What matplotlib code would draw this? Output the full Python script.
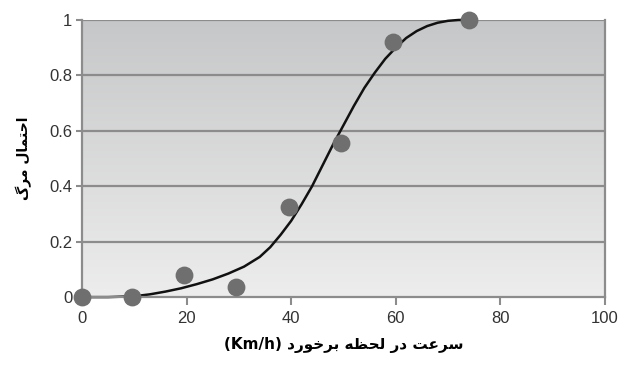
import matplotlib
matplotlib.use("Agg")
import matplotlib.pyplot as plt
from matplotlib.colors import LinearSegmentedColormap
import numpy as np

# measured points
speed = [0, 9.5, 19.5, 29.5, 39.5, 49.5, 59.5, 74]
prob = [0.0, 0.0, 0.08, 0.035, 0.325, 0.555, 0.92, 1.0]

# fitted curve
curve_x = [0, 5, 10, 13, 16, 19, 22, 25, 28, 31, 34, 36, 38, 40, 42, 44, 46, 48, 50,
           52, 54, 56, 58, 60, 62, 64, 66, 68, 70, 72, 74]
curve_y = [0.0, 0.0, 0.003, 0.01, 0.02, 0.032, 0.047, 0.064, 0.085, 0.11, 0.145, 0.18,
           0.225, 0.275, 0.335, 0.40, 0.475, 0.55, 0.62, 0.69, 0.755, 0.81, 0.86, 0.90,
           0.935, 0.96, 0.978, 0.99, 0.997, 1.0, 1.0]

xticks = [0, 20, 40, 60, 80, 100]
yticks = [0, 0.2, 0.4, 0.6, 0.8, 1]
ytick_labels = ["0", "0.2", "0.4", "0.6", "0.8", "1"]

xlabel_fa = "سرعت در لحظه برخورد"
ylabel_fa = "احتمال مرگ"

# simple persian shaping (presentation forms) since matplotlib has no shaper
forms = {
    "ا": ("\uFE8D", "\uFE8E", None, None),
    "ب": ("\uFE8F", "\uFE90", "\uFE91", "\uFE92"),
    "ت": ("\uFE95", "\uFE96", "\uFE97", "\uFE98"),
    "ح": ("\uFEA1", "\uFEA2", "\uFEA3", "\uFEA4"),
    "خ": ("\uFEA5", "\uFEA6", "\uFEA7", "\uFEA8"),
    "د": ("\uFEA9", "\uFEAA", None, None),
    "ر": ("\uFEAD", "\uFEAE", None, None),
    "س": ("\uFEB1", "\uFEB2", "\uFEB3", "\uFEB4"),
    "ظ": ("\uFEC5", "\uFEC6", "\uFEC7", "\uFEC8"),
    "ع": ("\uFEC9", "\uFECA", "\uFECB", "\uFECC"),
    "ل": ("\uFEDD", "\uFEDE", "\uFEDF", "\uFEE0"),
    "م": ("\uFEE1", "\uFEE2", "\uFEE3", "\uFEE4"),
    "ه": ("\uFEE9", "\uFEEA", "\uFEEB", "\uFEEC"),
    "و": ("\uFEED", "\uFEEE", None, None),
    "گ": ("\uFB92", "\uFB93", "\uFB94", "\uFB95"),
}


def shape(text):
    out = []
    for i, ch in enumerate(text):
        if ch not in forms:
            out.append(ch)
            continue
        prev = text[i - 1] if i > 0 else ""
        nxt = text[i + 1] if i + 1 < len(text) else ""
        join_prev = prev in forms and forms[prev][2] is not None
        join_next = nxt in forms and forms[ch][2] is not None
        iso, fin, ini, med = forms[ch]
        if join_prev and join_next:
            out.append(med)
        elif join_prev:
            out.append(fin)
        elif join_next:
            out.append(ini)
        else:
            out.append(iso)
    return "".join(out)[::-1]


plt.rcParams["font.family"] = ["Liberation Sans", "DejaVu Sans"]

fig = plt.figure(figsize=(6.25, 3.7), dpi=100)
ax = fig.add_axes([0.131, 0.197, 0.837, 0.749])

# gradient background, light at the bottom, darker at the top
bg = LinearSegmentedColormap.from_list("bg", ["#ededed", "#c6c7c8"])
grad = np.linspace(0, 1, 256).reshape(-1, 1)
ax.imshow(grad, extent=[0, 100, 0, 1], aspect="auto", cmap=bg,
          origin="lower", zorder=0)

for y in yticks[1:]:
    ax.axhline(y, color="#8c8c8c", lw=1.6, zorder=1)

ax.plot(curve_x, curve_y, color="#111111", lw=1.8, zorder=2, clip_on=False)
ax.scatter(speed, prob, s=140, color="#6f6f6f", zorder=3, clip_on=False)

ax.set_xlim(0, 100)
ax.set_ylim(0, 1)
ax.set_xticks(xticks)
ax.set_yticks(yticks)
ax.set_yticklabels(ytick_labels)
ax.tick_params(axis="x", length=6, width=1.5, color="#8c8c8c", labelsize=12,
               labelcolor="#333333", pad=4)
ax.tick_params(axis="y", length=4, width=1.5, color="#8c8c8c", labelsize=12,
               labelcolor="#333333", pad=3)
for s in ["left", "right", "bottom"]:
    ax.spines[s].set_color("#8c8c8c")
    ax.spines[s].set_linewidth(1.6)
ax.spines["top"].set_visible(False)

ax.set_xlabel("(Km/h) " + shape(xlabel_fa), fontsize=11, fontweight="bold",
              labelpad=8, family=["DejaVu Sans"])
ax.set_ylabel(shape(ylabel_fa), fontsize=10, fontweight="bold", labelpad=12,
              family=["DejaVu Sans"])

fig.savefig("out.png", dpi=100)
